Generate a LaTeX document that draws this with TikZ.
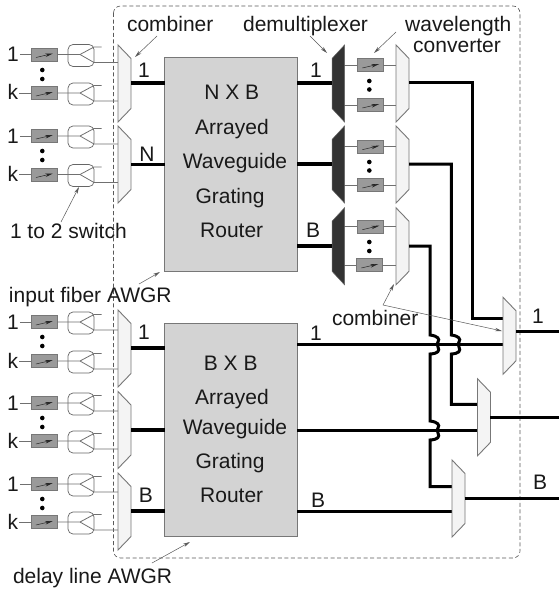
\documentclass[tikz,border=0pt]{standalone}
\usepackage{fontspec}
\setmainfont{Liberation Sans}
\usetikzlibrary{arrows.meta}
\definecolor{edgegray}{HTML}{777777}
\definecolor{thingray}{HTML}{707070}
\definecolor{convgray}{HTML}{9A9A9A}
\definecolor{routergray}{HTML}{D3D3D3}
\definecolor{lightfill}{HTML}{F4F4F4}
\definecolor{darkfill}{HTML}{333333}
\tikzset{
  txt/.style={inner sep=0pt,outer sep=0pt,font=\fontsize{21}{21}\selectfont,text=black!90},
  conv/.style={draw=edgegray,fill=convgray,line width=0.9pt,minimum width=26pt,minimum height=13pt,inner sep=0pt,outer sep=0pt},
  convarrow/.style={draw=black!85,line width=0.5pt,-{Stealth[length=8pt,width=3.5pt]}},
  swbox/.style={draw=black!60,line width=0.7pt,rounded corners=5pt,minimum width=26pt,minimum height=22pt,inner sep=0pt,outer sep=0pt},
  thinl/.style={draw=thingray,line width=0.8pt},
  thickl/.style={draw=black,line width=3.6pt},
  medl/.style={draw=black,line width=3pt},
  routerbox/.style={draw=edgegray,fill=routergray,line width=0.9pt,inner sep=0pt,outer sep=0pt},
  comb/.style={draw=edgegray,fill=lightfill,line width=0.9pt},
  demux/.style={draw=black!60,fill=darkfill,line width=0.5pt},
  dotn/.style={circle,fill=black,inner sep=0pt,minimum size=4.6pt},
  callout/.style={draw=black!65,line width=0.5pt,-{Stealth[length=7pt,width=3.5pt]}},
  border/.style={draw=black!65,line width=0.6pt,dash pattern=on 4pt off 2.6pt,rounded corners=7pt},
}
% input unit: id, label, y
\newcommand{\inrow}[3]{
  \node[txt,anchor=base] (l#1) at (13,{#3+7}) {#2};
  \node[conv] (b#1) at (44,#3) {};
  \draw[convarrow] (b#1.center) ++(-8,3) -- ++(17,-4);
  \node[swbox] (s#1) at (81,{#3+1}) {};
  \coordinate (a#1) at (80,#3);
  \coordinate (u#1) at (94,{#3-7.5});
  \coordinate (d#1) at (94,{#3+8});
  \coordinate (us#1) at (101.5,{#3-7.5});
  \coordinate (ds#1) at (118,{#3+8});
  \draw[thinl] (l#1.east |- b#1) ++(1,0) -- (b#1.west);
  \draw[thinl] (b#1.east) -- (a#1) -- (u#1) -- (us#1);
  \draw[thinl] (a#1) -- (d#1) -- (ds#1);
}
% converter unit: id, x, y, left port x, right port x
\newcommand{\wconv}[3]{
  \node[conv] (w#1) at (#2,#3) {};
  \draw[convarrow] (w#1.center) ++(-8,3) -- ++(17,-4);
  \coordinate (wl#1) at (344,#3);
  \coordinate (wr#1) at (396,#3);
  \draw[thinl] (wl#1) -- (w#1.west);
  \draw[thinl] (w#1.east) -- (wr#1);
}
\newcommand{\combiner}[2]{% x of tall side, centre y
  \draw[comb] (#1,{#2-38.5}) -- ({#1+13},{#2-25}) -- ({#1+13},{#2+25}) -- (#1,{#2+38.5}) -- cycle;
}
\newcommand{\demuxer}[2]{% centre y
  \draw[demux] (#1,{#2-25}) -- ({#1+12.5},{#2-38.5}) -- ({#1+12.5},{#2+38.5}) -- (#1,{#2+25}) -- cycle;
}
\begin{document}
\begin{tikzpicture}[x=1pt,y=-1pt]
\useasboundingbox (0,0) rectangle (559,591);
\fill[white] (0,0) rectangle (559,591);
\draw[border] (113.5,6) rectangle (520,558);

% inputs
\inrow{a}{1}{54.5}
\inrow{b}{k}{93}
\inrow{c}{1}{136}
\inrow{d}{k}{174.5}
\inrow{e}{1}{322}
\inrow{f}{k}{361}
\inrow{g}{1}{403}
\inrow{h}{k}{441}
\inrow{i}{1}{484}
\inrow{j}{k}{522}
\foreach \nm/\yy in {p1/70,p2/79,p3/151,p4/160,p5/337,p6/346,p7/418,p8/427,p9/499,p10/508}
  \node[dotn] (\nm) at (42.3,\yy) {};

% input combiners
\combiner{118}{83.5}
\combiner{118}{164.5}
\combiner{118}{348.5}
\combiner{118}{430}
\combiner{118}{511.5}
\coordinate (ci1) at (131,83);
\coordinate (ci2) at (131,164.5);
\coordinate (ci3) at (131,348);
\coordinate (ci4) at (131,430);
\coordinate (ci5) at (131,511);

% routers
\node[routerbox,minimum width=132.6pt,minimum height=213.7pt] (r1) at (231,164.2) {};
\node[routerbox,minimum width=132.6pt,minimum height=213.4pt] (r2) at (231,430) {};
\draw[thickl] (ci1) -- (ci1 -| r1.west);
\draw[thickl] (ci2) -- (ci2 -| r1.west);
\draw[thickl] (ci3) -- (ci3 -| r2.west);
\draw[thickl] (ci4) -- (ci4 -| r2.west);
\draw[thickl] (ci5) -- (ci5 -| r2.west);

\node[txt,anchor=base] (t1) at (231.7,100) {N X B};
\node[txt,anchor=base] (t2) at (232,134.3) {Arrayed};
\node[txt,anchor=base] (t3) at (235,168.3) {Waveguide};
\node[txt,anchor=base] (t4) at (230,203) {Grating};
\node[txt,anchor=base] (t5) at (231.7,237) {Router};
\node[txt,anchor=base] (t6) at (230.7,370) {B X B};
\node[txt,anchor=base] (t7) at (232,404.3) {Arrayed};
\node[txt,anchor=base] (t8) at (235,434) {Waveguide};
\node[txt,anchor=base] (t9) at (230,468.7) {Grating};
\node[txt,anchor=base] (t10) at (231.7,502.7) {Router};

% demultiplexers and converters
\wconv{a}{370.3}{65}
\wconv{b}{370.3}{105}
\wconv{c}{370.3}{146.7}
\wconv{d}{370.3}{185}
\wconv{e}{370.3}{226.7}
\wconv{f}{369.3}{265}
\foreach \nm/\yy in {q1/81,q2/89.5,q3/162,q4/170.5,q5/242,q6/251}
  \node[dotn] (\nm) at (369.3,\yy) {};
\demuxer{332}{83.5}
\demuxer{332}{164.5}
\demuxer{332}{246.3}
\combiner{396}{83.5}
\combiner{396}{164.5}
\combiner{396}{246.3}
\coordinate (di1) at (332,83);
\coordinate (di2) at (332,164);
\coordinate (di3) at (332,246);
\draw[thickl] (r1.east |- di1) -- (di1);
\draw[thickl] (r1.east |- di2) -- (di2);
\draw[thickl] (r1.east |- di3) -- (di3);

% output combiners
\coordinate (m1) at (503,344.3);
\coordinate (m2) at (477.5,430);
\coordinate (m3) at (452,511);
\draw[medl] (r2.east |- m1) -- (m1);
\draw[medl] (r2.east |- m2) -- (m2);
\draw[medl] (r2.east |- m3) -- (m3);
\coordinate (o1) at (409,83);
\coordinate (o2) at (409,164);
\coordinate (o3) at (409,246);
\coordinate (ri1) at (503,318);
\coordinate (ri2) at (477.5,404.3);
\coordinate (ri3) at (452,486.7);
\coordinate (e1) at (559,331);
\coordinate (e2) at (559,417);
\coordinate (e3) at (559,498);
\coordinate (f1) at (516,331);
\coordinate (f2) at (490,417);
\coordinate (f3) at (464.5,498);
\draw[medl,miter limit=10] (o1) -- (472.7,83) -- (472.7,318) -- (ri1);
\draw[medl] (o2) -- (451.3,164) -- (451.3,335)
  .. controls (459,336) and (461,339) .. (459,342)
  .. controls (457,345) and (459.5,345) .. (459,347)
  .. controls (461,351) and (459,353.5) .. (451.3,354)
  -- (451.3,404.3) -- (ri2);
\draw[medl] (o3) -- (430,246) -- (430,335)
  .. controls (438,336) and (440,339) .. (438,342)
  .. controls (436,345) and (438.5,345) .. (438,347)
  .. controls (440,351) and (438,353.5) .. (430,354)
  -- (430,421)
  .. controls (438,422) and (440,425) .. (438,428)
  .. controls (436,431) and (438.5,431) .. (438,433)
  .. controls (440,437) and (438,439.5) .. (430,440)
  -- (430,486.7) -- (ri3);
\combiner{503}{335.8}
\combiner{477.5}{417.3}
\combiner{452}{498.5}
\draw[medl] (f1) -- (e1);
\draw[medl] (f2) -- (e2);
\draw[medl] (f3) -- (e3);

% small numbers
\node[txt,anchor=base] (n1) at (144,78) {1};
\node[txt,anchor=base] (n2) at (147,161) {N};
\node[txt,anchor=base] (n3) at (144,339) {1};
\node[txt,anchor=base] (n4) at (146,502) {B};
\node[txt,anchor=base] (n5) at (316,78) {1};
\node[txt,anchor=base] (n6) at (313,237) {B};
\node[txt,anchor=base] (n7) at (316,340) {1};
\node[txt,anchor=base] (n8) at (318,507) {B};
\node[txt,anchor=base] (n9) at (538,323) {1};
\node[txt,anchor=base] (n10) at (540,489) {B};

% captions
\node[txt,anchor=base west] (c1) at (127,32) {combiner};
\node[txt,anchor=base east] (c2) at (368,32) {demultiplexer};
\node[txt,anchor=base] (c3) at (458.3,32) {wavelength};
\node[txt,anchor=base] (c4) at (457,53) {converter};
\node[txt,anchor=base west] (c5) at (10,238) {1 to 2 switch};
\node[txt,anchor=base west] (c6) at (9,302) {input fiber AWGR};
\node[txt,anchor=base west] (c7) at (13,583) {delay line AWGR};
\node[txt,anchor=base west] (c8) at (332,325) {combiner};

% callouts
\coordinate (k1s) at (157,36);  \coordinate (k1e) at (135,57);
\coordinate (k2s) at (310,36);  \coordinate (k2e) at (327,53);
\coordinate (k3s) at (396,32);  \coordinate (k3e) at (374,53);
\coordinate (k4s) at (61,222);  \coordinate (k4e) at (79,187);
\coordinate (k5s) at (139,284); \coordinate (k5e) at (160,272);
\coordinate (k6s) at (152,563); \coordinate (k6e) at (190,542);
\coordinate (k7s) at (383,305); \coordinate (k7e) at (394,284);
\coordinate (k8e) at (502,331);
\draw[callout] (k1s) -- (k1e);
\draw[callout] (k2s) -- (k2e);
\draw[callout] (k3s) -- (k3e);
\draw[callout] (k4s) -- (k4e);
\draw[callout] (k5s) -- (k5e);
\draw[callout] (k6s) -- (k6e);
\draw[callout] (k7s) -- (k7e);
\draw[callout] (k7s) -- (k8e);
\end{tikzpicture}
\end{document}
